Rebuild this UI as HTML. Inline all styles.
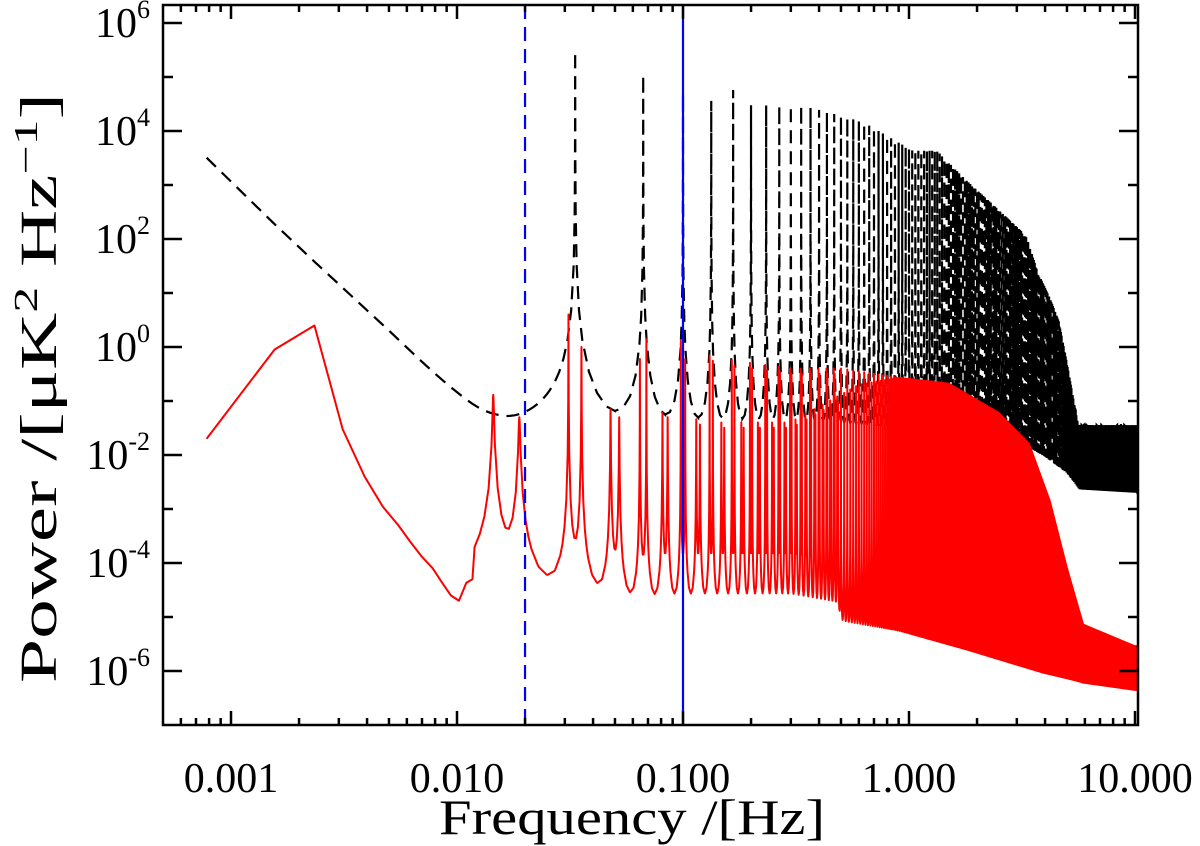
<!DOCTYPE html>
<html><head><meta charset="utf-8"><style>
html,body{margin:0;padding:0;background:#fff}
svg{display:block}
text{font-family:"Liberation Serif",serif;fill:#000}
</style></head><body>
<svg id="chart" width="1200" height="846" viewBox="0 0 1200 846" xmlns="http://www.w3.org/2000/svg">
<defs><clipPath id="plotclip"><rect x="163" y="5" width="975" height="720"/></clipPath></defs>
<g id="series" clip-path="url(#plotclip)"></g>
<rect x="163" y="5" width="975" height="720" fill="none" stroke="#000" stroke-width="2.5"/>
<g id="axes"></g>
<text x="632" y="834" font-size="50" text-anchor="middle" textLength="386" lengthAdjust="spacingAndGlyphs">Frequency /[Hz]</text>
<text transform="translate(56,388) rotate(-90)" font-size="52" text-anchor="middle" textLength="590" lengthAdjust="spacingAndGlyphs">Power /[μK<tspan dy="-19" font-size="34">2</tspan><tspan dy="19"> Hz</tspan><tspan dy="-19" font-size="34">−1</tspan><tspan dy="19">]</tspan></text>
</svg>
<script>
// ---- data ----
const blackLowF=[0.00078,0.001,0.002,0.005,0.01,0.015,0.02,0.03,0.04];
const blackLowP=[3200,1100,70,2,0.12,0.02,0.004,0.0003,0.000001];
const blackPeakF=[0.0333,0.0667,0.1,0.134,0.17,0.2,0.336,0.62,1.04,1.33,1.8,2.4,3.3,3.7,4.2,4.6,5.0,5.6,10];
const blackPeakP=[3e5,1.1e5,5e4,3.6e4,6e4,3e4,3e4,1.5e4,4.3e3,4.3e3,1.2e3,400,115,25,8,3,0.5,0.035,0.035];
const blackTroughF=[0.0333,0.05,0.085,0.12,0.3,1,3,4,5,5.7,10];
const blackTroughP=[0.05,0.05,0.035,0.03,0.03,0.02,0.012,0.006,0.003,0.0015,0.0013];
const redLowF=[0.00078,0.00156,0.00234,0.00312,0.0039,0.0047,0.0055,0.0062,0.007,0.0078,0.0086,0.0094,0.0102,0.011,0.0117];
const redLowP=[0.02,0.9,2.5,0.03,0.004,0.0011,5e-4,2.5e-4,1.3e-4,8e-5,4.3e-5,2.5e-5,2e-5,4.3e-5,5e-5];
const redPairLeftP=[0.13,4,0.07,0.6,0.06,1.3];
const redPairRightP=[0.05,1,0.05,1.4,0.05,0.6];
const redEvenF=[0.1,0.15,0.3,0.5,0.9,1.5,2.5,3.4,4.2,5.0,5.9,10];
const redEvenP=[1,0.6,0.4,0.4,0.27,0.21,0.06,0.016,0.0014,8e-5,7e-6,2.7e-6];
const redOddF=[0.1,0.15,0.3,0.6,0.9];
const redOddP=[0.05,0.04,0.04,0.2,0.27];
const redTroughF=[0.0117,0.021,0.043,0.057,0.08,0.1,0.3,0.9,1.8,3.9,5.9,10];
const redTroughP=[3e-5,2e-5,1.3e-5,7e-6,8e-6,8e-6,8e-6,3.6e-6,1.6e-6,6e-7,4e-7,3e-7];
const markerF=[0.02,0.1];
const xTickVals=[0.001,0.01,0.1,1,10];
const xTickLabels=["0.001","0.010","0.100","1.000","10.000"];
const yTickExps=[-6,-4,-2,0,2,4,6];

// ---- scales ----
function X(f){return 457+226*Math.log10(f/0.01);}
function Y(p){return 347-54*Math.log10(p);}
function interpLog(xs,ys,f){
  if(f<=xs[0])return ys[0];
  if(f>=xs[xs.length-1])return ys[ys.length-1];
  for(let i=1;i<xs.length;i++){if(f<=xs[i]){
    const t=(Math.log(f)-Math.log(xs[i-1]))/(Math.log(xs[i])-Math.log(xs[i-1]));
    return Math.exp(Math.log(ys[i-1])+t*(Math.log(ys[i])-Math.log(ys[i-1])));}}
}
const NS='http://www.w3.org/2000/svg';
const offs=[0,0.003,0.01,0.03,0.08,0.15,0.3,0.5,0.75,1];
function buildModel(peaks,h,troughF,troughP,extraF,extraFn,fmin){
  const tint=f=>0.15*interpLog(troughF,troughP,f);
  peaks.forEach(p=>{p.w=2*h*Math.sqrt(tint(p.c)/p.A);});
  const samples=[];
  peaks.forEach((p,i)=>{offs.forEach(o=>{samples.push({f:p.c+o*h,i});if(o>0)samples.push({f:p.c-o*h,i});});});
  extraF.forEach(f=>{let best=0,bd=1e9;peaks.forEach((p,i)=>{const d=Math.abs(p.c-f);if(d<bd){bd=d;best=i;}});samples.push({f,i:best});});
  samples.sort((a,b)=>a.f-b.f);
  const pts=[];
  samples.forEach(s=>{
    if(s.f<fmin||s.f>10.5)return;
    let v=tint(s.f)+(extraFn?extraFn(s.f):0);
    for(let j=Math.max(0,s.i-4);j<=Math.min(peaks.length-1,s.i+4);j++){
      const d=(s.f-peaks[j].c)/peaks[j].w;v+=peaks[j].A/(1+d*d);}
    pts.push([s.f,v]);
  });
  return pts;
}
function pathFrom(pts){return pts.map((p,i)=>(i?'L':'M')+X(p[0]).toFixed(2)+' '+Y(p[1]).toFixed(2)).join('');}

const f0=1/30;
const bPeaks=[];
for(let n=1;n*f0<=10.3;n++){bPeaks.push({c:n*f0,A:interpLog(blackPeakF,blackPeakP,n*f0)});}
const bExtra=[];for(let k=1;k*0.00078<0.03;k++)bExtra.push(k*0.00078);
const bPts=buildModel(bPeaks,f0/2,blackTroughF,blackTroughP,bExtra,f=>interpLog(blackLowF,blackLowP,f),0.00078);
const f1=f0/2;
const rPeaks=[];
for(let n=1;n*f1<=10.3;n++){
  const c=n*f1;
  if(n<=6){rPeaks.push({c:c-0.0022,A:redPairLeftP[n-1]});rPeaks.push({c:c+0.0022,A:redPairRightP[n-1]});}
  else{
    const A=(n%2===0||c>0.9)?interpLog(redEvenF,redEvenP,c):interpLog(redOddF,redOddP,c);
    if(c<0.5){rPeaks.push({c:c-0.0022,A:A});rPeaks.push({c:c+0.0022,A:A*0.8});}
    else rPeaks.push({c:c,A:A});
  }
}
const rModel=buildModel(rPeaks,f1/2,redTroughF,redTroughP,[],null,0.0118);
const rPts=redLowF.map((f,i)=>[f,redLowP[i]]).concat(rModel);

const g=document.getElementById('series');
const bp=document.createElementNS(NS,'path');


bp.setAttribute('d',pathFrom(bPts));bp.setAttribute('fill','none');bp.setAttribute('stroke','#000');
bp.setAttribute('stroke-width','2.2');bp.setAttribute('stroke-dasharray','13,8');
g.appendChild(bp);
const rp=document.createElementNS(NS,'path');


rp.setAttribute('d',pathFrom(rPts));rp.setAttribute('fill','none');rp.setAttribute('stroke','#f00');
rp.setAttribute('stroke-width','2');rp.setAttribute('stroke-linejoin','round');
g.appendChild(rp);
markerF.forEach((f,i)=>{
  const l=document.createElementNS(NS,'line');
  
  
  l.setAttribute('x1',X(f));l.setAttribute('x2',X(f));l.setAttribute('y1',5);l.setAttribute('y2',725);
  l.setAttribute('stroke','#0000ff');l.setAttribute('stroke-width','2.2');
  if(i===0)l.setAttribute('stroke-dasharray','14,8');
  g.appendChild(l);
});

const ax=document.getElementById('axes');
function line(x1,y1,x2,y2,name){const l=document.createElementNS(NS,'line');
  
  
  l.setAttribute('x1',x1);l.setAttribute('y1',y1);l.setAttribute('x2',x2);l.setAttribute('y2',y2);
  l.setAttribute('stroke','#000');l.setAttribute('stroke-width','2.5');ax.appendChild(l);}
for(let e=-4;e<=1;e++){for(let m=1;m<10;m++){const f=m*Math.pow(10,e);const x=X(f);
  if(x<164||x>1137)continue;const len=m===1?14:7;
  line(x,725,x,725-len,'x-tick');line(x,5,x,5+len,'x-tick-top');}}
for(let e=-7;e<=6;e++){const y=Y(Math.pow(10,e));if(y<6||y>724)continue;const len=(e%2===0)?19:10;
  line(163,y,163+len,y,'y-tick');line(1138,y,1138-len,y,'y-tick-right');}
xTickVals.forEach((v,i)=>{const t=document.createElementNS(NS,'text');
  
  
  t.setAttribute('x',X(v));t.setAttribute('y',792);t.setAttribute('font-size','42');t.setAttribute('text-anchor','middle');
  t.textContent=xTickLabels[i];ax.appendChild(t);});
yTickExps.forEach(e=>{const t=document.createElementNS(NS,'text');
  
  
  const y=Y(Math.pow(10,e));
  t.setAttribute('x',150);t.setAttribute('y',y+14);t.setAttribute('font-size','42');t.setAttribute('text-anchor','end');
  t.innerHTML='10<tspan dy="-19" font-size="26">'+e+'</tspan>';ax.appendChild(t);});
</script>
</body></html>
